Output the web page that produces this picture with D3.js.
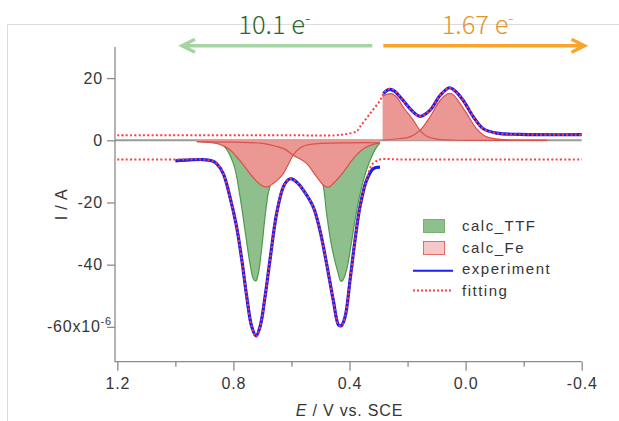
<!DOCTYPE html>
<html>
<head>
<meta charset="utf-8">
<script src="https://cdn.jsdelivr.net/npm/d3@7"></script>
<style>
body { margin: 0; background: #fff; }
svg { display: block; }
</style>
</head>
<body>
<svg width="619" height="421"></svg>
<script>
// potential in V vs. SCE, current in 1e-6 A
const potentialTicks = [1.2, 1.0, 0.8, 0.6, 0.4, 0.2, 0.0, -0.2, -0.4];
const potentialLabels = [1.2, 0.8, 0.4, 0.0, -0.4];
const currentTicks = [20, 0, -20, -40, -60];

const experimentRed = [[1.00,-6.6],[0.95,-6.3],[0.904,-6.2],[0.875,-6.6],[0.858,-7.5],[0.835,-10.7],[0.812,-18.2],[0.789,-27.8],[0.771,-38.5],[0.754,-50.3],[0.737,-59.9],[0.722,-62.9],[0.708,-59.9],[0.691,-50.3],[0.674,-38.5],[0.651,-23.5],[0.628,-15.0],[0.61,-12.6],[0.599,-12.4],[0.58,-13.6],[0.559,-16.0],[0.525,-21.4],[0.502,-28.9],[0.479,-39.6],[0.456,-51.4],[0.437,-59.5],[0.428,-59.6],[0.415,-56.7],[0.398,-44.9],[0.381,-32.1],[0.364,-21.4],[0.341,-12.8],[0.318,-9.1],[0.295,-8.6]];
const experimentOx = [[0.283,15.0],[0.272,16.0],[0.261,16.4],[0.245,15.8],[0.215,12.8],[0.186,9.6],[0.157,7.7],[0.123,9.6],[0.088,14.4],[0.056,16.9],[0.035,15.8],[0.008,12.8],[-0.027,7.5],[-0.061,3.7],[-0.107,2.3],[-0.187,1.9],[-0.4,1.8]];

const fittingRed = [[1.2,-6.2],[1.0,-6.2],[0.904,-6.2],[0.875,-6.6],[0.858,-7.5],[0.835,-10.7],[0.812,-18.2],[0.789,-27.8],[0.771,-38.5],[0.754,-50.3],[0.737,-59.9],[0.722,-63.2],[0.708,-59.9],[0.691,-50.3],[0.674,-38.5],[0.651,-23.5],[0.628,-15.0],[0.61,-12.6],[0.599,-12.4],[0.58,-13.6],[0.559,-16.0],[0.525,-21.4],[0.502,-28.9],[0.479,-39.6],[0.456,-51.4],[0.437,-59.5],[0.428,-59.6],[0.415,-56.7],[0.398,-44.9],[0.381,-32.1],[0.364,-21.4],[0.341,-12.8],[0.324,-8.0],[0.312,-7.0],[0.295,-6.2],[0.2,-6.2],[-0.4,-6.2]];
const fittingOx = [[1.2,1.6],[0.6,1.6],[0.45,1.6],[0.42,1.9],[0.395,2.3],[0.375,2.9],[0.364,4.3],[0.329,8.6],[0.295,12.8],[0.278,15.6],[0.261,16.6],[0.245,16.0],[0.215,12.8],[0.186,9.6],[0.157,7.7],[0.123,9.6],[0.088,14.4],[0.056,16.9],[0.035,15.8],[0.008,12.8],[-0.027,7.5],[-0.061,3.7],[-0.107,2.3],[-0.187,1.9],[-0.4,1.8]];

const calcTTF1 = [[0.87,-0.2],[0.835,-1.6],[0.8,-7.5],[0.777,-18.2],[0.76,-28.9],[0.743,-39.6],[0.73,-44.8],[0.722,-45.2],[0.714,-42.8],[0.702,-34.3],[0.691,-24.6],[0.68,-17.1],[0.668,-12.8],[0.65,-6.0],[0.63,-2.5],[0.6,-0.5],[0.55,-0.1]];
const calcTTF2 = [[0.62,-0.1],[0.56,-1.0],[0.52,-5.0],[0.49,-15.0],[0.479,-23.5],[0.461,-34.3],[0.439,-42.8],[0.43,-45.3],[0.423,-45.0],[0.41,-41.7],[0.392,-32.1],[0.375,-22.5],[0.352,-12.8],[0.329,-6.4],[0.306,-2.1],[0.295,-0.9]];

const calcFeRed1 = [[0.926,-0.4],[0.88,-0.7],[0.846,-1.3],[0.815,-2.8],[0.789,-5.3],[0.765,-8.0],[0.743,-10.7],[0.72,-13.2],[0.697,-14.8],[0.68,-14.9],[0.663,-13.9],[0.645,-12.5],[0.628,-10.7],[0.61,-7.6],[0.594,-4.8],[0.575,-2.8],[0.55,-1.6],[0.5,-1.0],[0.4,-0.8],[0.295,-0.8]];
const calcFeRed2 = [[0.926,-0.4],[0.8,-0.6],[0.7,-1.0],[0.65,-2.0],[0.62,-3.0],[0.594,-4.8],[0.57,-6.0],[0.547,-7.5],[0.513,-11.8],[0.484,-14.8],[0.47,-15.0],[0.456,-13.9],[0.421,-10.2],[0.387,-5.9],[0.352,-2.7],[0.318,-1.3],[0.295,-0.9]];
const calcFeOx1 = [[0.286,14.1],[0.27,14.8],[0.255,15.0],[0.235,13.6],[0.215,10.7],[0.18,6.4],[0.157,3.2],[0.134,1.3],[0.10,0.4],[0.05,0.1],[-0.28,0]];
const calcFeOx2 = [[0.286,0.1],[0.23,0.5],[0.192,1.1],[0.157,3.2],[0.123,7.5],[0.088,12.8],[0.06,15.0],[0.045,14.8],[0.031,13.4],[-0.004,8.6],[-0.038,3.7],[-0.073,1.1],[-0.13,0.2],[-0.28,0]];

const legendNames = ['calc_TTF', 'calc_Fe', 'experiment', 'fitting'];
const electronCounts = ['10.1 e', '1.67 e'];

const svg = d3.select('svg');
const font = '"Liberation Sans", Arial, sans-serif';

const x = d3.scaleLinear().domain([1.2, -0.4]).range([117.3, 581.7]);
const y = d3.scaleLinear().domain([-71.2, 30]).range([361.7, 47]);

const curve = d3.curveCatmullRom.alpha(0.5);
const line = d3.line().x(d => x(d[0])).y(d => y(d[1])).curve(curve);
const area = d3.area().x(d => x(d[0])).y0(y(0)).y1(d => y(d[1])).curve(curve);

// picture frame
svg.append('path').attr('d', 'M7.5,421V24.5H619').attr('fill', 'none').attr('stroke', '#dcdcdc');

// zero line
svg.append('line')
    .attr('x1', 115).attr('x2', x(-0.4))
    .attr('y1', y(0)).attr('y2', y(0))
    .attr('stroke', '#9a9a9a').attr('stroke-width', 2);

// calc_TTF fills
[calcTTF1, calcTTF2].forEach(s => {
    svg.append('path').attr('d', area(s)).attr('fill', '#8fbf8d');
    svg.append('path').attr('d', line(s)).attr('fill', 'none').attr('stroke', '#4f9a4c').attr('stroke-width', 1.2);
});

// calc_Fe fills
[calcFeRed1, calcFeRed2, calcFeOx1, calcFeOx2].forEach(s => {
    svg.append('path').attr('d', area(s)).attr('fill', '#eb9794');
});
[calcFeRed1, calcFeRed2, calcFeOx1, calcFeOx2].forEach(s => {
    svg.append('path').attr('d', line(s)).attr('fill', 'none').attr('stroke', '#d9524c').attr('stroke-width', 1.2);
});

// experiment
[experimentRed, experimentOx].forEach(s => {
    svg.append('path').attr('d', line(s)).attr('fill', 'none')
        .attr('stroke', '#1c1cf5').attr('stroke-width', 3.2);
});

// fitting
[fittingRed, fittingOx].forEach(s => {
    svg.append('path').attr('d', line(s)).attr('fill', 'none')
        .attr('stroke', '#ff3b3b').attr('stroke-width', 2)
        .attr('stroke-dasharray', '2,2.3');
});

// axes
const axisColor = '#8c8c8c';
const yAxis = svg.append('g')
    .attr('transform', 'translate(115,0)')
    .call(d3.axisLeft(y).tickValues(currentTicks).tickSize(8).tickPadding(4).tickSizeOuter(0)
        .tickFormat(d => d === -60 ? '-60x10' : String(d)));
yAxis.select('.domain').remove();
yAxis.selectAll('.tick line').attr('stroke', axisColor).attr('stroke-width', 1.3);
yAxis.selectAll('.tick text')
    .attr('fill', '#363636').style('font', '16px ' + font).attr('letter-spacing', 0.8)
    .filter(d => d === -60)
    .attr('x', -3)
    .append('tspan').attr('dy', -7).style('font-size', '11px').text('-6');

const xAxis = svg.append('g')
    .attr('transform', `translate(0,${y(-71.2)})`)
    .call(d3.axisBottom(x).tickValues(potentialTicks).tickSize(9).tickPadding(7).tickSizeOuter(0)
        .tickFormat(d => potentialLabels.includes(d) ? d.toFixed(1) : ''));
xAxis.select('.domain').remove();
xAxis.selectAll('.tick line').attr('stroke', axisColor).attr('stroke-width', 1.3)
    .filter(d => !potentialLabels.includes(d)).attr('y2', 5);
xAxis.selectAll('.tick text')
    .attr('fill', '#363636').style('font', '16px ' + font).attr('letter-spacing', 0.8);

svg.append('path')
    .attr('d', `M115,${y.range()[1]}V${y.range()[0]}H${x.range()[1]}`)
    .attr('fill', 'none').attr('stroke', axisColor).attr('stroke-width', 1.3);

// axis titles
const xTitle = svg.append('text')
    .attr('x', (x.range()[0] + x.range()[1]) / 2).attr('y', 416)
    .attr('text-anchor', 'middle').attr('fill', '#363636')
    .style('font', '16px ' + font).attr('letter-spacing', 0.8);
xTitle.append('tspan').attr('font-style', 'italic').text('E');
xTitle.append('tspan').text(' / V vs. SCE');

svg.append('text')
    .attr('transform', `translate(67,${(y.range()[0] + y.range()[1]) / 2}) rotate(-90)`)
    .attr('text-anchor', 'middle').attr('fill', '#363636')
    .style('font', '16px ' + font).attr('letter-spacing', 0.8)
    .text('I / A');

// legend
const legend = svg.append('g').attr('transform', 'translate(413,219)');
legend.append('rect').attr('x', 10.5).attr('y', 0.5).attr('width', 21).attr('height', 13)
    .attr('fill', '#8fbf8d').attr('stroke', '#74b070');
legend.append('rect').attr('x', 10.5).attr('y', 22.5).attr('width', 21).attr('height', 13)
    .attr('fill', '#f6c9c8').attr('stroke', '#e86a66');
legend.append('line').attr('x1', 0).attr('x2', 40).attr('y1', 51.7).attr('y2', 51.7)
    .attr('stroke', '#1c1cf5').attr('stroke-width', 2);
legend.append('line').attr('x1', 0).attr('x2', 40).attr('y1', 71.5).attr('y2', 71.5)
    .attr('stroke', '#ff3b3b').attr('stroke-width', 2).attr('stroke-dasharray', '2,2');
legend.selectAll('text.name')
    .data(legendNames)
    .enter()
    .append('text')
    .attr('x', 49)
    .attr('y', (d, i) => 12 + i * 21.5)
    .attr('fill', '#363636')
    .style('font', '15px ' + font)
    .attr('letter-spacing', 1.5)
    .text(d => d);

// electron count arrows
const arrowY = 45.7;
svg.append('path')
    .attr('d', `M372.3,${arrowY}H182.5M195,${arrowY - 6.5}L182,${arrowY}L195,${arrowY + 6.5}`)
    .attr('fill', 'none').attr('stroke', '#a6d5a4').attr('stroke-width', 3.4);
svg.append('path')
    .attr('d', `M383.3,${arrowY}H584M571.5,${arrowY - 6.5}L584.5,${arrowY}L571.5,${arrowY + 6.5}`)
    .attr('fill', 'none').attr('stroke', '#f7a52c').attr('stroke-width', 3.4);

const arrowText = [[238.3, '#2b662a'], [441.7, '#e3952c']];
electronCounts.forEach((t, i) => {
    const txt = svg.append('text')
        .attr('x', arrowText[i][0]).attr('y', 33.5)
        .attr('fill', arrowText[i][1])
        .style('font', '300 25.5px "Noto Sans CJK JP", "Noto Sans", sans-serif');
    txt.append('tspan').text(t);
    txt.append('tspan').attr('dy', -9.5).style('font-size', '16px').text('-');
});
</script>
</body>
</html>
